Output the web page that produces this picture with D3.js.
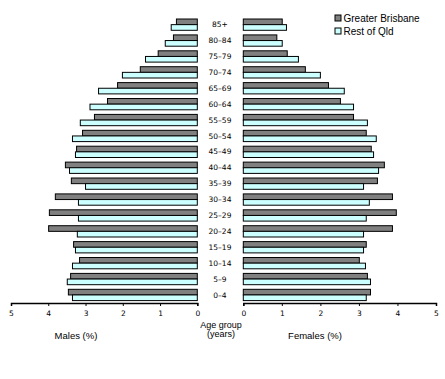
<!DOCTYPE html>
<html><head><meta charset="utf-8">
<script src="https://cdn.jsdelivr.net/npm/d3@7"></script>
<style>body{margin:0;background:#fff}svg{display:block}</style>
</head><body>
<script>
const ageGroups = ["85+","80–84","75–79","70–74","65–69","60–64","55–59","50–54","45–49","40–44","35–39","30–34","25–29","20–24","15–19","10–14","5–9","0–4"];
const seriesNames = ["Greater Brisbane","Rest of Qld"];
const malesBrisbane = [0.56,0.64,1.05,1.53,2.14,2.41,2.76,3.08,3.24,3.54,3.38,3.81,3.97,3.99,3.32,3.16,3.40,3.46];
const malesRestQld  = [0.70,0.86,1.39,2.01,2.65,2.88,3.14,3.35,3.27,3.43,3.00,3.19,3.19,3.22,3.27,3.35,3.49,3.35];
const femalesBrisbane = [1.01,0.87,1.14,1.61,2.21,2.52,2.86,3.19,3.32,3.66,3.48,3.87,3.97,3.87,3.19,3.01,3.22,3.30];
const femalesRestQld  = [1.12,1.01,1.43,2.00,2.62,2.86,3.22,3.45,3.38,3.51,3.12,3.27,3.19,3.12,3.12,3.17,3.30,3.19];
const tickValues = [0,1,2,3,4,5];
const colors = ["#808080","#ccffff"];

const W=445,H=379;
const svg=d3.select("body").append("svg").attr("width",W).attr("height",H);

const y=d3.scaleBand().domain(ageGroups).range([16.7,302.9]).paddingInner(0.29).paddingOuter(0.145);
const ySub=d3.scaleBand().domain(seriesNames).range([0,y.bandwidth()]);
const xL=d3.scaleLinear().domain([0,5]).range([197.3,11]);
const xR=d3.scaleLinear().domain([0,5]).range([243.3,436]);
const axisY=303;

const male=[malesBrisbane,malesRestQld], female=[femalesBrisbane,femalesRestQld];

seriesNames.forEach((s,si)=>{
  const g=svg.append("g");
  g.selectAll("rect.m").data(ageGroups).enter().append("rect")
    .attr("x",(d,i)=>xL(male[si][i])).attr("width",(d,i)=>xL(0)-xL(male[si][i]))
    .attr("y",d=>y(d)+ySub(s)).attr("height",ySub.bandwidth())
    .attr("fill",colors[si]).attr("stroke","#000").attr("stroke-width",1);
  g.selectAll("rect.f").data(ageGroups).enter().append("rect")
    .attr("x",xR(0)).attr("width",(d,i)=>xR(female[si][i])-xR(0))
    .attr("y",d=>y(d)+ySub(s)).attr("height",ySub.bandwidth())
    .attr("fill",colors[si]).attr("stroke","#000").attr("stroke-width",1);
});

// age labels
svg.append("g").selectAll("text").data(ageGroups).enter().append("text")
  .attr("x",220).attr("y",d=>y(d)+y.bandwidth()/2).attr("dy","0.35em")
  .attr("text-anchor","middle").attr("font-family","DejaVu Sans, Verdana, sans-serif")
  .attr("font-size",7.5).attr("fill","#000").text(d=>d);

function styleAxis(g){
  g.select(".domain").attr("stroke","#000").attr("stroke-width",1.5);
  g.selectAll(".tick line").attr("stroke","#000");
  g.selectAll(".tick text").attr("font-family","DejaVu Sans, Verdana, sans-serif").attr("font-size",7.5).attr("fill","#000");
}
const aL=svg.append("g").attr("transform",`translate(0,${axisY})`)
  .call(d3.axisBottom(xL).tickValues(tickValues).tickSize(3).tickSizeOuter(3).tickPadding(5).tickFormat(d3.format("d")));
styleAxis(aL);
const aR=svg.append("g").attr("transform",`translate(0,${axisY})`)
  .call(d3.axisBottom(xR).tickValues(tickValues).tickSize(3).tickSizeOuter(3).tickPadding(5).tickFormat(d3.format("d")));
styleAxis(aR);

const lf="Liberation Sans, Arial, sans-serif";
svg.append("text").attr("x",76).attr("y",339).attr("text-anchor","middle").attr("font-family",lf).attr("font-size",9.5).text("Males (%)");
svg.append("text").attr("x",315).attr("y",339).attr("text-anchor","middle").attr("font-family",lf).attr("font-size",9.5).text("Females (%)");
svg.append("text").attr("x",221).attr("y",328).attr("text-anchor","middle").attr("font-family",lf).attr("font-size",9).text("Age group");
svg.append("text").attr("x",221).attr("y",337).attr("text-anchor","middle").attr("font-family",lf).attr("font-size",9).text("(years)");

// legend
const lg=svg.append("g").attr("transform","translate(335,15)");
seriesNames.forEach((s,i)=>{
  lg.append("rect").attr("x",0).attr("y",i*13).attr("width",6).attr("height",6)
    .attr("fill",colors[i]).attr("stroke","#000").attr("stroke-width",1);
  lg.append("text").attr("x",8.5).attr("y",i*13+3.5).attr("dy","0.35em")
    .attr("font-family",lf).attr("font-size",10).text(s);
});
</script>
</body></html>
